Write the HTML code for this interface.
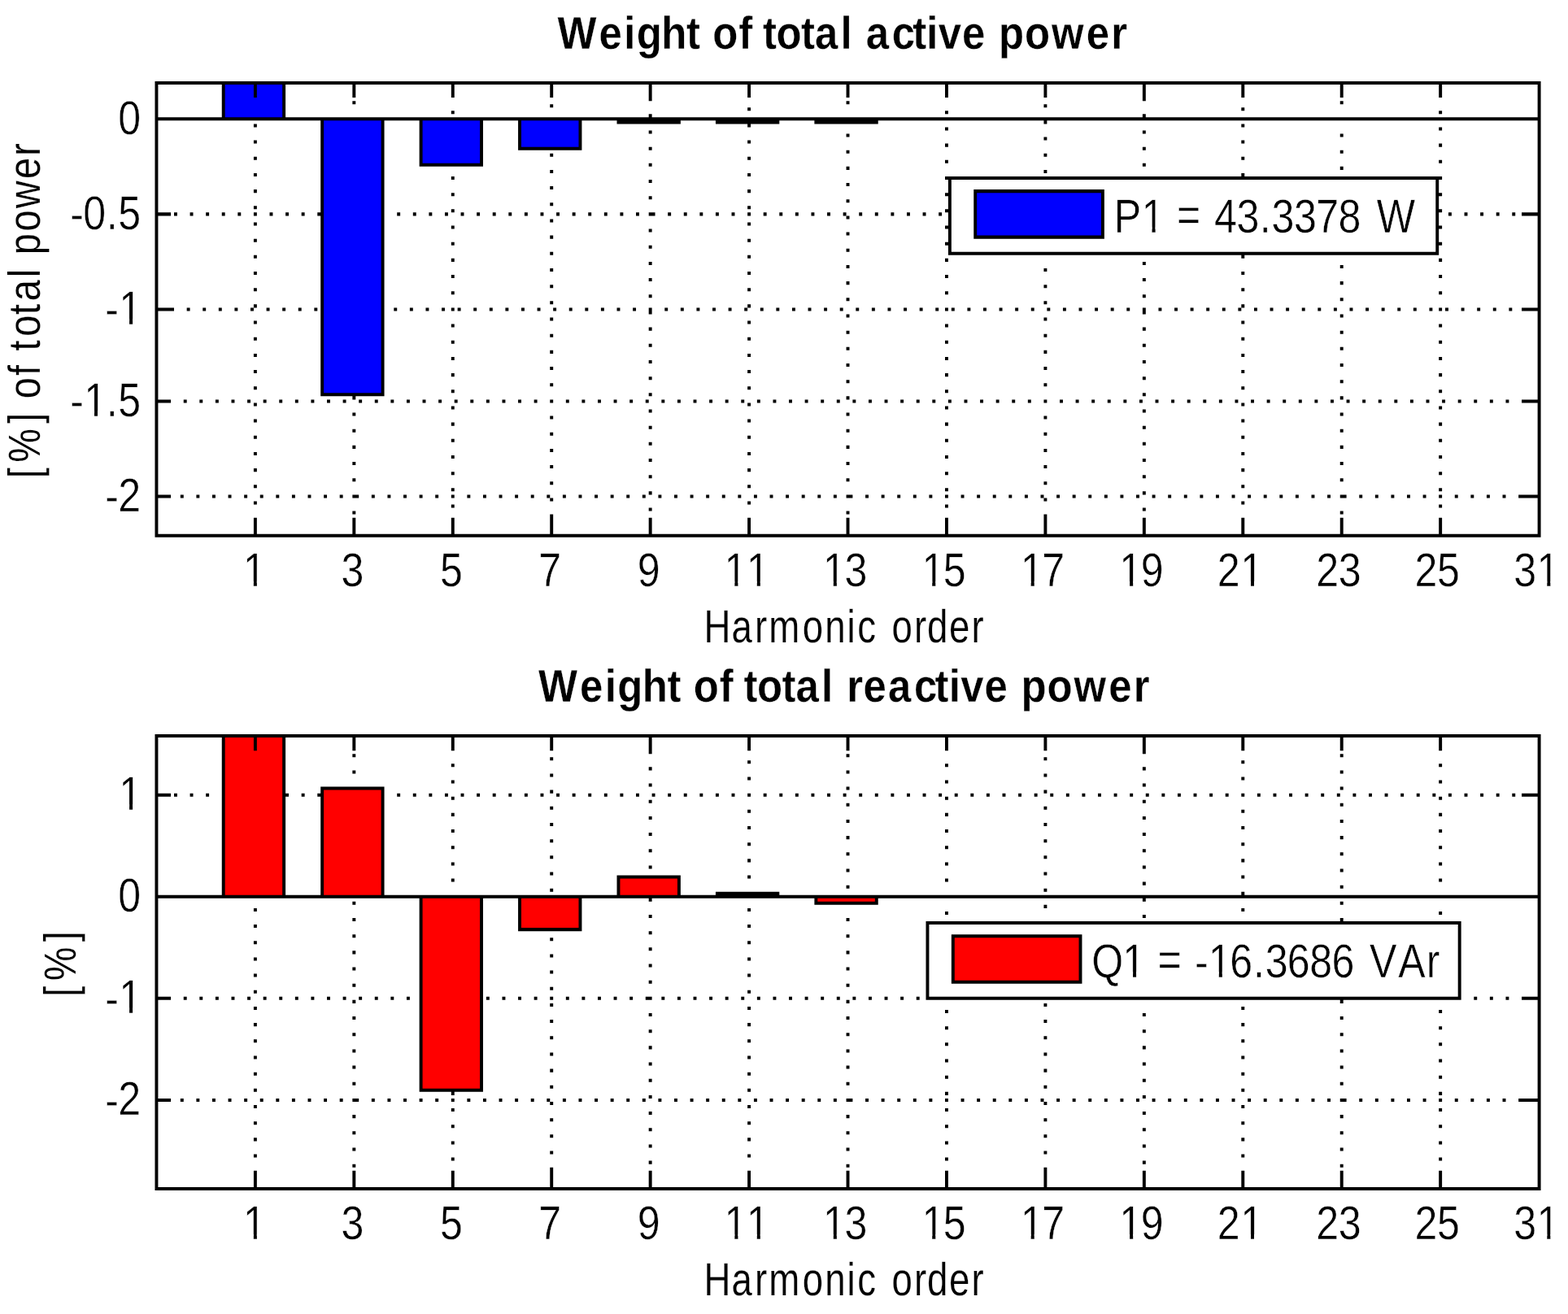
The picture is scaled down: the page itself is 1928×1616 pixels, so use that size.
<!DOCTYPE html>
<html lang="en"><head><meta charset="utf-8"><title>Weight of total active and reactive power</title>
<style>html,body{margin:0;padding:0;background:#fff}body{width:1928px;height:1616px;overflow:hidden}svg{display:block}text{font-family:"Liberation Sans",sans-serif;font-size:58.5px;font-kerning:none;font-variant-ligatures:none;fill:#000;stroke:#fff;stroke-width:0.5px;text-rendering:geometricPrecision;white-space:pre}text.b{font-weight:bold;font-size:56.5px;stroke-width:0.3px}text.l{font-size:57.0px;stroke-width:0.2px}</style></head><body>
<svg width="1928" height="1616" viewBox="0 0 1928 1616">
<rect width="1928" height="1616" fill="#fff"/>
<defs>
<clipPath id="k0"><path clip-rule="evenodd" d="M-17.32 -64.35H447.58V23.40H-17.32ZM43.17 -6.74H54.82V2.93H43.17ZM59.52 -6.74H70.74V2.93H59.52Z"/></clipPath>
<clipPath id="k1"><path clip-rule="evenodd" d="M-17.41 -64.35H550.97V23.40H-17.41ZM47.75 -6.74H59.40V2.93H47.75ZM64.10 -6.74H75.31V2.93H64.10ZM171.31 -6.74H182.96V2.93H171.31ZM187.66 -6.74H198.88V2.93H187.66Z"/></clipPath>
<clipPath id="k2"><path clip-rule="evenodd" d="M-18.85 -64.35H68.90V23.40H-18.85ZM1.99 -6.74H13.63V2.93H1.99ZM18.33 -6.74H29.55V2.93H18.33Z"/></clipPath>
<clipPath id="k3"><path clip-rule="evenodd" d="M-18.85 -64.35H100.94V23.40H-18.85ZM1.99 -6.74H13.63V2.93H1.99ZM18.33 -6.74H29.55V2.93H18.33ZM34.02 -6.74H45.67V2.93H34.02ZM50.37 -6.74H61.58V2.93H50.37Z"/></clipPath>
<clipPath id="k4"><path clip-rule="evenodd" d="M-18.85 -64.35H99.87V23.40H-18.85ZM1.99 -6.74H13.63V2.93H1.99ZM18.33 -6.74H29.55V2.93H18.33Z"/></clipPath>
<clipPath id="k5"><path clip-rule="evenodd" d="M-18.85 -64.35H99.75V23.40H-18.85ZM1.99 -6.74H13.63V2.93H1.99ZM18.33 -6.74H29.55V2.93H18.33Z"/></clipPath>
<clipPath id="k6"><path clip-rule="evenodd" d="M-18.85 -64.35H99.67V23.40H-18.85ZM1.99 -6.74H13.63V2.93H1.99ZM18.33 -6.74H29.55V2.93H18.33Z"/></clipPath>
<clipPath id="k7"><path clip-rule="evenodd" d="M-18.85 -64.35H99.71V23.40H-18.85ZM1.99 -6.74H13.63V2.93H1.99ZM18.33 -6.74H29.55V2.93H18.33Z"/></clipPath>
<clipPath id="k8"><path clip-rule="evenodd" d="M-20.09 -64.35H100.94V23.40H-20.09ZM34.02 -6.74H45.67V2.93H34.02ZM50.37 -6.74H61.58V2.93H50.37Z"/></clipPath>
<clipPath id="k9"><path clip-rule="evenodd" d="M-19.92 -64.35H100.94V23.40H-19.92ZM34.02 -6.74H45.67V2.93H34.02ZM50.37 -6.74H61.58V2.93H50.37Z"/></clipPath>
<clipPath id="k10"><path clip-rule="evenodd" d="M-18.85 -64.35H68.90V23.40H-18.85ZM1.99 -6.74H13.63V2.93H1.99ZM18.33 -6.74H29.55V2.93H18.33Z"/></clipPath>
<clipPath id="k11"><path clip-rule="evenodd" d="M-18.85 -64.35H100.94V23.40H-18.85ZM1.99 -6.74H13.63V2.93H1.99ZM18.33 -6.74H29.55V2.93H18.33ZM34.02 -6.74H45.67V2.93H34.02ZM50.37 -6.74H61.58V2.93H50.37Z"/></clipPath>
<clipPath id="k12"><path clip-rule="evenodd" d="M-18.85 -64.35H99.87V23.40H-18.85ZM1.99 -6.74H13.63V2.93H1.99ZM18.33 -6.74H29.55V2.93H18.33Z"/></clipPath>
<clipPath id="k13"><path clip-rule="evenodd" d="M-18.85 -64.35H99.75V23.40H-18.85ZM1.99 -6.74H13.63V2.93H1.99ZM18.33 -6.74H29.55V2.93H18.33Z"/></clipPath>
<clipPath id="k14"><path clip-rule="evenodd" d="M-18.85 -64.35H99.67V23.40H-18.85ZM1.99 -6.74H13.63V2.93H1.99ZM18.33 -6.74H29.55V2.93H18.33Z"/></clipPath>
<clipPath id="k15"><path clip-rule="evenodd" d="M-18.85 -64.35H99.71V23.40H-18.85ZM1.99 -6.74H13.63V2.93H1.99ZM18.33 -6.74H29.55V2.93H18.33Z"/></clipPath>
<clipPath id="k16"><path clip-rule="evenodd" d="M-20.09 -64.35H100.94V23.40H-20.09ZM34.02 -6.74H45.67V2.93H34.02ZM50.37 -6.74H61.58V2.93H50.37Z"/></clipPath>
<clipPath id="k17"><path clip-rule="evenodd" d="M-19.92 -64.35H100.94V23.40H-19.92ZM34.02 -6.74H45.67V2.93H34.02ZM50.37 -6.74H61.58V2.93H50.37Z"/></clipPath>
<clipPath id="k18"><path clip-rule="evenodd" d="M-20.43 -64.35H87.21V23.40H-20.43ZM20.29 -6.74H31.94V2.93H20.29ZM36.64 -6.74H47.86V2.93H36.64Z"/></clipPath>
<clipPath id="k19"><path clip-rule="evenodd" d="M-20.43 -64.35H136.36V23.40H-20.43ZM20.29 -6.74H31.94V2.93H20.29ZM36.64 -6.74H47.86V2.93H36.64Z"/></clipPath>
<clipPath id="k20"><path clip-rule="evenodd" d="M-18.85 -64.35H68.90V23.40H-18.85ZM1.99 -6.74H13.63V2.93H1.99ZM18.33 -6.74H29.55V2.93H18.33Z"/></clipPath>
<clipPath id="k21"><path clip-rule="evenodd" d="M-20.43 -64.35H87.21V23.40H-20.43ZM20.29 -6.74H31.94V2.93H20.29ZM36.64 -6.74H47.86V2.93H36.64Z"/></clipPath>
</defs>
<g id="active-power">
<rect x="274.72" y="101.95" width="74.43" height="44.39" fill="#0000ff"/>
<rect x="396.15" y="146.34" width="74.43" height="338.98" fill="#0000ff"/>
<rect x="517.59" y="146.34" width="74.43" height="56.50" fill="#0000ff"/>
<rect x="639.03" y="146.34" width="74.43" height="36.32" fill="#0000ff"/>
</g>
<g id="reactive-power">
<rect x="274.72" y="905.01" width="74.43" height="197.74" fill="#ff0000"/>
<rect x="396.15" y="969.58" width="74.43" height="133.17" fill="#ff0000"/>
<rect x="517.59" y="1102.75" width="74.43" height="238.09" fill="#ff0000"/>
<rect x="639.03" y="1102.75" width="74.43" height="40.36" fill="#ff0000"/>
<rect x="760.47" y="1078.54" width="74.43" height="24.21" fill="#ff0000"/>
<rect x="1003.35" y="1102.75" width="74.43" height="8.07" fill="#ff0000"/>
</g>
<g id="legends">
<rect x="1165.92" y="216.96" width="603.28" height="96.85" fill="#fff"/>
<rect x="1199.22" y="235.12" width="156.70" height="56.50" fill="#0000ff"/>
<rect x="1138.50" y="1133.02" width="658.12" height="96.85" fill="#fff"/>
<rect x="1171.80" y="1151.18" width="156.70" height="56.50" fill="#ff0000"/>
</g>
<path id="lines" fill="#000" d="M190.49 99.93H1894.56V103.97H190.49ZM190.49 656.83H1894.56V660.87H190.49ZM190.49 99.93H194.41V660.87H190.49ZM1890.64 99.93H1894.56V660.87H1890.64ZM190.49 144.32H1894.56V148.36H190.49ZM272.76 99.93H351.10V103.97H272.76ZM272.76 144.32H351.10V148.36H272.76ZM272.76 99.93H276.67V148.36H272.76ZM347.19 99.93H351.10V148.36H347.19ZM394.20 144.32H472.54V148.36H394.20ZM394.20 483.30H472.54V487.34H394.20ZM394.20 144.32H398.11V487.34H394.20ZM468.63 144.32H472.54V487.34H468.63ZM515.64 144.32H593.98V148.36H515.64ZM515.64 200.82H593.98V204.86H515.64ZM515.64 144.32H519.55V204.86H515.64ZM590.07 144.32H593.98V204.86H590.07ZM637.07 144.32H715.42V148.36H637.07ZM637.07 180.64H715.42V184.68H637.07ZM637.07 144.32H640.99V184.68H637.07ZM711.51 144.32H715.42V184.68H711.51ZM758.51 144.32H836.86V148.36H758.51ZM758.51 148.36H836.86V152.39H758.51ZM758.51 144.32H762.43V152.39H758.51ZM832.94 144.32H836.86V152.39H832.94ZM879.95 144.32H958.30V148.36H879.95ZM879.95 148.36H958.30V152.39H879.95ZM879.95 144.32H883.87V152.39H879.95ZM954.38 144.32H958.30V152.39H954.38ZM1001.39 144.32H1079.74V148.36H1001.39ZM1001.39 148.36H1079.74V152.39H1001.39ZM1001.39 144.32H1005.31V152.39H1001.39ZM1075.82 144.32H1079.74V152.39H1075.82ZM311.93 103.97H315.85V120.11H311.93ZM311.93 636.65H315.85V656.83H311.93ZM433.37 103.97H437.29V120.11H433.37ZM433.37 636.65H437.29V656.83H433.37ZM554.81 103.97H558.73V120.11H554.81ZM554.81 636.65H558.73V656.83H554.81ZM676.25 103.97H680.17V120.11H676.25ZM676.25 636.65H680.17V656.83H676.25ZM797.69 103.97H801.61V120.11H797.69ZM797.69 636.65H801.61V656.83H797.69ZM919.13 103.97H923.05V120.11H919.13ZM919.13 636.65H923.05V656.83H919.13ZM1040.57 103.97H1044.48V120.11H1040.57ZM1040.57 636.65H1044.48V656.83H1040.57ZM1162.01 103.97H1165.92V120.11H1162.01ZM1162.01 636.65H1165.92V656.83H1162.01ZM1283.45 103.97H1287.36V120.11H1283.45ZM1283.45 636.65H1287.36V656.83H1283.45ZM1404.89 103.97H1408.80V120.11H1404.89ZM1404.89 636.65H1408.80V656.83H1404.89ZM1526.32 103.97H1530.24V120.11H1526.32ZM1526.32 636.65H1530.24V656.83H1526.32ZM1647.76 103.97H1651.68V120.11H1647.76ZM1647.76 636.65H1651.68V656.83H1647.76ZM1769.20 103.97H1773.12V120.11H1769.20ZM1769.20 636.65H1773.12V656.83H1769.20ZM194.41 261.35H210.08V265.39H194.41ZM1871.06 261.35H1890.64V265.39H1871.06ZM194.41 378.38H210.08V382.42H194.41ZM1871.06 378.38H1890.64V382.42H1871.06ZM194.41 491.38H210.08V495.41H194.41ZM1871.06 491.38H1890.64V495.41H1871.06ZM194.41 608.41H210.08V612.44H194.41ZM1871.06 608.41H1890.64V612.44H1871.06ZM194.41 144.32H210.08V148.36H194.41ZM1871.06 144.32H1890.64V148.36H1871.06ZM210.08 378.38H214.00V382.42H210.08ZM214.00 261.35H217.91V265.39H214.00ZM221.83 608.41H225.75V612.44H221.83ZM225.75 491.38H229.67V495.41H225.75ZM229.67 378.38H233.58V382.42H229.67ZM233.58 261.35H237.50V265.39H233.58ZM241.42 608.41H245.33V612.44H241.42ZM245.33 491.38H249.25V495.41H245.33ZM249.25 378.38H253.17V382.42H249.25ZM253.17 261.35H257.09V265.39H253.17ZM261.00 608.41H264.92V612.44H261.00ZM264.92 491.38H268.84V495.41H264.92ZM268.84 378.38H272.76V382.42H268.84ZM272.76 261.35H276.67V265.39H272.76ZM280.59 608.41H284.51V612.44H280.59ZM284.51 491.38H288.43V495.41H284.51ZM288.43 378.38H292.34V382.42H288.43ZM292.34 261.35H296.26V265.39H292.34ZM300.18 608.41H304.10V612.44H300.18ZM304.10 491.38H308.01V495.41H304.10ZM308.01 378.38H311.93V382.42H308.01ZM311.93 152.39H315.85V156.43H311.93ZM311.93 172.57H315.85V176.61H311.93ZM311.93 192.75H315.85V196.78H311.93ZM311.93 212.93H315.85V216.96H311.93ZM311.93 233.10H315.85V237.14H311.93ZM311.93 253.28H315.85V257.32H311.93ZM311.93 261.35H315.85V265.39H311.93ZM311.93 273.46H315.85V277.49H311.93ZM311.93 293.64H315.85V297.67H311.93ZM311.93 313.81H315.85V317.85H311.93ZM311.93 333.99H315.85V338.03H311.93ZM311.93 354.17H315.85V358.20H311.93ZM311.93 374.35H315.85V378.38H311.93ZM311.93 394.52H315.85V398.56H311.93ZM311.93 414.70H315.85V418.74H311.93ZM311.93 434.88H315.85V438.91H311.93ZM311.93 455.06H315.85V459.09H311.93ZM311.93 475.23H315.85V479.27H311.93ZM311.93 495.41H315.85V499.45H311.93ZM311.93 515.59H315.85V519.62H311.93ZM311.93 535.77H315.85V539.80H311.93ZM311.93 555.94H315.85V559.98H311.93ZM311.93 576.12H315.85V580.16H311.93ZM311.93 596.30H315.85V600.33H311.93ZM311.93 616.48H315.85V620.51H311.93ZM319.77 608.41H323.68V612.44H319.77ZM323.68 491.38H327.60V495.41H323.68ZM327.60 378.38H331.52V382.42H327.60ZM331.52 261.35H335.44V265.39H331.52ZM339.35 608.41H343.27V612.44H339.35ZM343.27 491.38H347.19V495.41H343.27ZM347.19 378.38H351.10V382.42H347.19ZM351.10 261.35H355.02V265.39H351.10ZM358.94 608.41H362.86V612.44H358.94ZM362.86 491.38H366.77V495.41H362.86ZM366.77 378.38H370.69V382.42H366.77ZM370.69 261.35H374.61V265.39H370.69ZM378.53 608.41H382.44V612.44H378.53ZM382.44 491.38H386.36V495.41H382.44ZM386.36 378.38H390.28V382.42H386.36ZM390.28 261.35H394.20V265.39H390.28ZM398.11 608.41H402.03V612.44H398.11ZM402.03 491.38H405.95V495.41H402.03ZM417.70 608.41H421.62V612.44H417.70ZM421.62 491.38H425.54V495.41H421.62ZM433.37 124.15H437.29V128.18H433.37ZM433.37 487.34H437.29V491.38H433.37ZM433.37 507.52H437.29V511.55H433.37ZM433.37 527.70H437.29V531.73H433.37ZM433.37 547.87H437.29V551.91H433.37ZM433.37 568.05H437.29V572.09H433.37ZM433.37 588.23H437.29V592.26H433.37ZM433.37 608.41H437.29V612.44H433.37ZM433.37 628.58H437.29V632.62H433.37ZM437.29 608.41H441.20V612.44H437.29ZM441.20 491.38H445.12V495.41H441.20ZM456.87 608.41H460.79V612.44H456.87ZM460.79 491.38H464.71V495.41H460.79ZM476.46 608.41H480.38V612.44H476.46ZM480.38 491.38H484.30V495.41H480.38ZM484.30 378.38H488.21V382.42H484.30ZM488.21 261.35H492.13V265.39H488.21ZM496.05 608.41H499.97V612.44H496.05ZM499.97 491.38H503.88V495.41H499.97ZM503.88 378.38H507.80V382.42H503.88ZM507.80 261.35H511.72V265.39H507.80ZM515.64 608.41H519.55V612.44H515.64ZM519.55 491.38H523.47V495.41H519.55ZM523.47 378.38H527.39V382.42H523.47ZM527.39 261.35H531.31V265.39H527.39ZM535.22 608.41H539.14V612.44H535.22ZM539.14 491.38H543.06V495.41H539.14ZM543.06 378.38H546.97V382.42H543.06ZM546.97 261.35H550.89V265.39H546.97ZM554.81 136.25H558.73V140.29H554.81ZM554.81 216.96H558.73V221.00H554.81ZM554.81 237.14H558.73V241.17H554.81ZM554.81 257.32H558.73V261.35H554.81ZM554.81 277.49H558.73V281.53H554.81ZM554.81 297.67H558.73V301.71H554.81ZM554.81 317.85H558.73V321.88H554.81ZM554.81 338.03H558.73V342.06H554.81ZM554.81 358.20H558.73V362.24H554.81ZM554.81 378.38H558.73V382.42H554.81ZM554.81 398.56H558.73V402.59H554.81ZM554.81 418.74H558.73V422.77H554.81ZM554.81 438.91H558.73V442.95H554.81ZM554.81 459.09H558.73V463.13H554.81ZM554.81 479.27H558.73V483.30H554.81ZM554.81 499.45H558.73V503.48H554.81ZM554.81 519.62H558.73V523.66H554.81ZM554.81 539.80H558.73V543.84H554.81ZM554.81 559.98H558.73V564.01H554.81ZM554.81 580.16H558.73V584.19H554.81ZM554.81 600.33H558.73V604.37H554.81ZM554.81 608.41H558.73V612.44H554.81ZM554.81 620.51H558.73V624.55H554.81ZM558.73 491.38H562.64V495.41H558.73ZM562.64 378.38H566.56V382.42H562.64ZM566.56 261.35H570.48V265.39H566.56ZM574.40 608.41H578.31V612.44H574.40ZM578.31 491.38H582.23V495.41H578.31ZM582.23 378.38H586.15V382.42H582.23ZM586.15 261.35H590.07V265.39H586.15ZM593.98 608.41H597.90V612.44H593.98ZM597.90 491.38H601.82V495.41H597.90ZM601.82 378.38H605.74V382.42H601.82ZM605.74 261.35H609.65V265.39H605.74ZM613.57 608.41H617.49V612.44H613.57ZM617.49 491.38H621.41V495.41H617.49ZM621.41 378.38H625.32V382.42H621.41ZM625.32 261.35H629.24V265.39H625.32ZM633.16 608.41H637.07V612.44H633.16ZM637.07 491.38H640.99V495.41H637.07ZM640.99 378.38H644.91V382.42H640.99ZM644.91 261.35H648.83V265.39H644.91ZM652.74 608.41H656.66V612.44H652.74ZM656.66 491.38H660.58V495.41H656.66ZM660.58 378.38H664.50V382.42H660.58ZM664.50 261.35H668.41V265.39H664.50ZM672.33 608.41H676.25V612.44H672.33ZM676.25 128.18H680.17V132.22H676.25ZM676.25 188.71H680.17V192.75H676.25ZM676.25 208.89H680.17V212.93H676.25ZM676.25 229.07H680.17V233.10H676.25ZM676.25 249.25H680.17V253.28H676.25ZM676.25 269.42H680.17V273.46H676.25ZM676.25 289.60H680.17V293.64H676.25ZM676.25 309.78H680.17V313.81H676.25ZM676.25 329.96H680.17V333.99H676.25ZM676.25 350.13H680.17V354.17H676.25ZM676.25 370.31H680.17V374.35H676.25ZM676.25 390.49H680.17V394.52H676.25ZM676.25 410.67H680.17V414.70H676.25ZM676.25 430.84H680.17V434.88H676.25ZM676.25 451.02H680.17V455.06H676.25ZM676.25 471.20H680.17V475.23H676.25ZM676.25 491.38H680.17V495.41H676.25ZM676.25 511.55H680.17V515.59H676.25ZM676.25 531.73H680.17V535.77H676.25ZM676.25 551.91H680.17V555.94H676.25ZM676.25 572.09H680.17V576.12H676.25ZM676.25 592.26H680.17V596.30H676.25ZM676.25 612.44H680.17V616.48H676.25ZM676.25 632.62H680.17V636.65H676.25ZM680.17 378.38H684.08V382.42H680.17ZM684.08 261.35H688.00V265.39H684.08ZM691.92 608.41H695.84V612.44H691.92ZM695.84 491.38H699.75V495.41H695.84ZM699.75 378.38H703.67V382.42H699.75ZM703.67 261.35H707.59V265.39H703.67ZM711.51 608.41H715.42V612.44H711.51ZM715.42 491.38H719.34V495.41H715.42ZM719.34 378.38H723.26V382.42H719.34ZM723.26 261.35H727.18V265.39H723.26ZM731.09 608.41H735.01V612.44H731.09ZM735.01 491.38H738.93V495.41H735.01ZM738.93 378.38H742.84V382.42H738.93ZM742.84 261.35H746.76V265.39H742.84ZM750.68 608.41H754.60V612.44H750.68ZM754.60 491.38H758.51V495.41H754.60ZM758.51 378.38H762.43V382.42H758.51ZM762.43 261.35H766.35V265.39H762.43ZM770.27 608.41H774.18V612.44H770.27ZM774.18 491.38H778.10V495.41H774.18ZM778.10 378.38H782.02V382.42H778.10ZM782.02 261.35H785.94V265.39H782.02ZM789.85 608.41H793.77V612.44H789.85ZM793.77 491.38H797.69V495.41H793.77ZM797.69 120.11H801.61V124.15H797.69ZM797.69 140.29H801.61V144.32H797.69ZM797.69 160.46H801.61V164.50H797.69ZM797.69 180.64H801.61V184.68H797.69ZM797.69 200.82H801.61V204.86H797.69ZM797.69 221.00H801.61V225.03H797.69ZM797.69 241.17H801.61V245.21H797.69ZM797.69 261.35H801.61V265.39H797.69ZM797.69 281.53H801.61V285.57H797.69ZM797.69 301.71H801.61V305.74H797.69ZM797.69 321.88H801.61V325.92H797.69ZM797.69 342.06H801.61V346.10H797.69ZM797.69 362.24H801.61V366.28H797.69ZM797.69 378.38H801.61V382.42H797.69ZM797.69 382.42H801.61V386.45H797.69ZM797.69 402.59H801.61V406.63H797.69ZM797.69 422.77H801.61V426.81H797.69ZM797.69 442.95H801.61V446.99H797.69ZM797.69 463.13H801.61V467.16H797.69ZM797.69 483.30H801.61V487.34H797.69ZM797.69 503.48H801.61V507.52H797.69ZM797.69 523.66H801.61V527.70H797.69ZM797.69 543.84H801.61V547.87H797.69ZM797.69 564.01H801.61V568.05H797.69ZM797.69 584.19H801.61V588.23H797.69ZM797.69 604.37H801.61V608.41H797.69ZM797.69 624.55H801.61V628.58H797.69ZM801.61 261.35H805.52V265.39H801.61ZM809.44 608.41H813.36V612.44H809.44ZM813.36 491.38H817.28V495.41H813.36ZM817.28 378.38H821.19V382.42H817.28ZM821.19 261.35H825.11V265.39H821.19ZM829.03 608.41H832.94V612.44H829.03ZM832.94 491.38H836.86V495.41H832.94ZM836.86 378.38H840.78V382.42H836.86ZM840.78 261.35H844.70V265.39H840.78ZM848.61 608.41H852.53V612.44H848.61ZM852.53 491.38H856.45V495.41H852.53ZM856.45 378.38H860.37V382.42H856.45ZM860.37 261.35H864.28V265.39H860.37ZM868.20 608.41H872.12V612.44H868.20ZM872.12 491.38H876.04V495.41H872.12ZM876.04 378.38H879.95V382.42H876.04ZM879.95 261.35H883.87V265.39H879.95ZM887.79 608.41H891.71V612.44H887.79ZM891.71 491.38H895.62V495.41H891.71ZM895.62 378.38H899.54V382.42H895.62ZM899.54 261.35H903.46V265.39H899.54ZM907.38 608.41H911.29V612.44H907.38ZM911.29 491.38H915.21V495.41H911.29ZM915.21 378.38H919.13V382.42H915.21ZM919.13 132.22H923.05V136.25H919.13ZM919.13 152.39H923.05V156.43H919.13ZM919.13 172.57H923.05V176.61H919.13ZM919.13 192.75H923.05V196.78H919.13ZM919.13 212.93H923.05V216.96H919.13ZM919.13 233.10H923.05V237.14H919.13ZM919.13 253.28H923.05V257.32H919.13ZM919.13 261.35H923.05V265.39H919.13ZM919.13 273.46H923.05V277.49H919.13ZM919.13 293.64H923.05V297.67H919.13ZM919.13 313.81H923.05V317.85H919.13ZM919.13 333.99H923.05V338.03H919.13ZM919.13 354.17H923.05V358.20H919.13ZM919.13 374.35H923.05V378.38H919.13ZM919.13 394.52H923.05V398.56H919.13ZM919.13 414.70H923.05V418.74H919.13ZM919.13 434.88H923.05V438.91H919.13ZM919.13 455.06H923.05V459.09H919.13ZM919.13 475.23H923.05V479.27H919.13ZM919.13 495.41H923.05V499.45H919.13ZM919.13 515.59H923.05V519.62H919.13ZM919.13 535.77H923.05V539.80H919.13ZM919.13 555.94H923.05V559.98H919.13ZM919.13 576.12H923.05V580.16H919.13ZM919.13 596.30H923.05V600.33H919.13ZM919.13 616.48H923.05V620.51H919.13ZM926.96 608.41H930.88V612.44H926.96ZM930.88 491.38H934.80V495.41H930.88ZM934.80 378.38H938.71V382.42H934.80ZM938.71 261.35H942.63V265.39H938.71ZM946.55 608.41H950.47V612.44H946.55ZM950.47 491.38H954.38V495.41H950.47ZM954.38 378.38H958.30V382.42H954.38ZM958.30 261.35H962.22V265.39H958.30ZM966.14 608.41H970.05V612.44H966.14ZM970.05 491.38H973.97V495.41H970.05ZM973.97 378.38H977.89V382.42H973.97ZM977.89 261.35H981.81V265.39H977.89ZM985.72 608.41H989.64V612.44H985.72ZM989.64 491.38H993.56V495.41H989.64ZM993.56 378.38H997.48V382.42H993.56ZM997.48 261.35H1001.39V265.39H997.48ZM1005.31 608.41H1009.23V612.44H1005.31ZM1009.23 491.38H1013.15V495.41H1009.23ZM1013.15 378.38H1017.06V382.42H1013.15ZM1017.06 261.35H1020.98V265.39H1017.06ZM1024.90 608.41H1028.81V612.44H1024.90ZM1028.81 491.38H1032.73V495.41H1028.81ZM1032.73 378.38H1036.65V382.42H1032.73ZM1036.65 261.35H1040.57V265.39H1036.65ZM1040.57 124.15H1044.48V128.18H1040.57ZM1040.57 164.50H1044.48V168.54H1040.57ZM1040.57 184.68H1044.48V188.71H1040.57ZM1040.57 204.86H1044.48V208.89H1040.57ZM1040.57 225.03H1044.48V229.07H1040.57ZM1040.57 245.21H1044.48V249.25H1040.57ZM1040.57 265.39H1044.48V269.42H1040.57ZM1040.57 285.57H1044.48V289.60H1040.57ZM1040.57 305.74H1044.48V309.78H1040.57ZM1040.57 325.92H1044.48V329.96H1040.57ZM1040.57 346.10H1044.48V350.13H1040.57ZM1040.57 366.28H1044.48V370.31H1040.57ZM1040.57 386.45H1044.48V390.49H1040.57ZM1040.57 406.63H1044.48V410.67H1040.57ZM1040.57 426.81H1044.48V430.84H1040.57ZM1040.57 446.99H1044.48V451.02H1040.57ZM1040.57 467.16H1044.48V471.20H1040.57ZM1040.57 487.34H1044.48V491.38H1040.57ZM1040.57 507.52H1044.48V511.55H1040.57ZM1040.57 527.70H1044.48V531.73H1040.57ZM1040.57 547.87H1044.48V551.91H1040.57ZM1040.57 568.05H1044.48V572.09H1040.57ZM1040.57 588.23H1044.48V592.26H1040.57ZM1040.57 608.41H1044.48V612.44H1040.57ZM1040.57 628.58H1044.48V632.62H1040.57ZM1044.48 608.41H1048.40V612.44H1044.48ZM1048.40 491.38H1052.32V495.41H1048.40ZM1052.32 378.38H1056.24V382.42H1052.32ZM1056.24 261.35H1060.15V265.39H1056.24ZM1064.07 608.41H1067.99V612.44H1064.07ZM1067.99 491.38H1071.91V495.41H1067.99ZM1071.91 378.38H1075.82V382.42H1071.91ZM1075.82 261.35H1079.74V265.39H1075.82ZM1083.66 608.41H1087.58V612.44H1083.66ZM1087.58 491.38H1091.49V495.41H1087.58ZM1091.49 378.38H1095.41V382.42H1091.49ZM1095.41 261.35H1099.33V265.39H1095.41ZM1103.25 608.41H1107.16V612.44H1103.25ZM1107.16 491.38H1111.08V495.41H1107.16ZM1111.08 378.38H1115.00V382.42H1111.08ZM1115.00 261.35H1118.92V265.39H1115.00ZM1122.83 608.41H1126.75V612.44H1122.83ZM1126.75 491.38H1130.67V495.41H1126.75ZM1130.67 378.38H1134.58V382.42H1130.67ZM1134.58 261.35H1138.50V265.39H1134.58ZM1142.42 608.41H1146.34V612.44H1142.42ZM1146.34 491.38H1150.25V495.41H1146.34ZM1150.25 378.38H1154.17V382.42H1150.25ZM1154.17 261.35H1158.09V265.39H1154.17ZM1162.01 136.25H1165.92V140.29H1162.01ZM1162.01 156.43H1165.92V160.46H1162.01ZM1162.01 176.61H1165.92V180.64H1162.01ZM1162.01 196.78H1165.92V200.82H1162.01ZM1162.01 216.96H1165.92V221.00H1162.01ZM1162.01 237.14H1165.92V241.17H1162.01ZM1162.01 257.32H1165.92V261.35H1162.01ZM1162.01 277.49H1165.92V281.53H1162.01ZM1162.01 297.67H1165.92V301.71H1162.01ZM1162.01 317.85H1165.92V321.88H1162.01ZM1162.01 338.03H1165.92V342.06H1162.01ZM1162.01 358.20H1165.92V362.24H1162.01ZM1162.01 378.38H1165.92V382.42H1162.01ZM1162.01 398.56H1165.92V402.59H1162.01ZM1162.01 418.74H1165.92V422.77H1162.01ZM1162.01 438.91H1165.92V442.95H1162.01ZM1162.01 459.09H1165.92V463.13H1162.01ZM1162.01 479.27H1165.92V483.30H1162.01ZM1162.01 499.45H1165.92V503.48H1162.01ZM1162.01 519.62H1165.92V523.66H1162.01ZM1162.01 539.80H1165.92V543.84H1162.01ZM1162.01 559.98H1165.92V564.01H1162.01ZM1162.01 580.16H1165.92V584.19H1162.01ZM1162.01 600.33H1165.92V604.37H1162.01ZM1162.01 608.41H1165.92V612.44H1162.01ZM1162.01 620.51H1165.92V624.55H1162.01ZM1165.92 491.38H1169.84V495.41H1165.92ZM1169.84 378.38H1173.76V382.42H1169.84ZM1181.59 608.41H1185.51V612.44H1181.59ZM1185.51 491.38H1189.43V495.41H1185.51ZM1189.43 378.38H1193.35V382.42H1189.43ZM1201.18 608.41H1205.10V612.44H1201.18ZM1205.10 491.38H1209.02V495.41H1205.10ZM1209.02 378.38H1212.93V382.42H1209.02ZM1220.77 608.41H1224.68V612.44H1220.77ZM1224.68 491.38H1228.60V495.41H1224.68ZM1228.60 378.38H1232.52V382.42H1228.60ZM1240.35 608.41H1244.27V612.44H1240.35ZM1244.27 491.38H1248.19V495.41H1244.27ZM1248.19 378.38H1252.11V382.42H1248.19ZM1259.94 608.41H1263.86V612.44H1259.94ZM1263.86 491.38H1267.78V495.41H1263.86ZM1267.78 378.38H1271.69V382.42H1267.78ZM1279.53 608.41H1283.45V612.44H1279.53ZM1283.45 128.18H1287.36V132.22H1283.45ZM1283.45 148.36H1287.36V152.39H1283.45ZM1283.45 168.54H1287.36V172.57H1283.45ZM1283.45 188.71H1287.36V192.75H1283.45ZM1283.45 208.89H1287.36V212.93H1283.45ZM1283.45 329.96H1287.36V333.99H1283.45ZM1283.45 350.13H1287.36V354.17H1283.45ZM1283.45 370.31H1287.36V374.35H1283.45ZM1283.45 390.49H1287.36V394.52H1283.45ZM1283.45 410.67H1287.36V414.70H1283.45ZM1283.45 430.84H1287.36V434.88H1283.45ZM1283.45 451.02H1287.36V455.06H1283.45ZM1283.45 471.20H1287.36V475.23H1283.45ZM1283.45 491.38H1287.36V495.41H1283.45ZM1283.45 511.55H1287.36V515.59H1283.45ZM1283.45 531.73H1287.36V535.77H1283.45ZM1283.45 551.91H1287.36V555.94H1283.45ZM1283.45 572.09H1287.36V576.12H1283.45ZM1283.45 592.26H1287.36V596.30H1283.45ZM1283.45 612.44H1287.36V616.48H1283.45ZM1283.45 632.62H1287.36V636.65H1283.45ZM1287.36 378.38H1291.28V382.42H1287.36ZM1299.12 608.41H1303.03V612.44H1299.12ZM1303.03 491.38H1306.95V495.41H1303.03ZM1306.95 378.38H1310.87V382.42H1306.95ZM1318.70 608.41H1322.62V612.44H1318.70ZM1322.62 491.38H1326.54V495.41H1322.62ZM1326.54 378.38H1330.45V382.42H1326.54ZM1338.29 608.41H1342.21V612.44H1338.29ZM1342.21 491.38H1346.12V495.41H1342.21ZM1346.12 378.38H1350.04V382.42H1346.12ZM1357.88 608.41H1361.79V612.44H1357.88ZM1361.79 491.38H1365.71V495.41H1361.79ZM1365.71 378.38H1369.63V382.42H1365.71ZM1377.46 608.41H1381.38V612.44H1377.46ZM1381.38 491.38H1385.30V495.41H1381.38ZM1385.30 378.38H1389.22V382.42H1385.30ZM1397.05 608.41H1400.97V612.44H1397.05ZM1400.97 491.38H1404.89V495.41H1400.97ZM1404.89 120.11H1408.80V124.15H1404.89ZM1404.89 140.29H1408.80V144.32H1404.89ZM1404.89 160.46H1408.80V164.50H1404.89ZM1404.89 180.64H1408.80V184.68H1404.89ZM1404.89 200.82H1408.80V204.86H1404.89ZM1404.89 321.88H1408.80V325.92H1404.89ZM1404.89 342.06H1408.80V346.10H1404.89ZM1404.89 362.24H1408.80V366.28H1404.89ZM1404.89 378.38H1408.80V382.42H1404.89ZM1404.89 382.42H1408.80V386.45H1404.89ZM1404.89 402.59H1408.80V406.63H1404.89ZM1404.89 422.77H1408.80V426.81H1404.89ZM1404.89 442.95H1408.80V446.99H1404.89ZM1404.89 463.13H1408.80V467.16H1404.89ZM1404.89 483.30H1408.80V487.34H1404.89ZM1404.89 503.48H1408.80V507.52H1404.89ZM1404.89 523.66H1408.80V527.70H1404.89ZM1404.89 543.84H1408.80V547.87H1404.89ZM1404.89 564.01H1408.80V568.05H1404.89ZM1404.89 584.19H1408.80V588.23H1404.89ZM1404.89 604.37H1408.80V608.41H1404.89ZM1404.89 624.55H1408.80V628.58H1404.89ZM1416.64 608.41H1420.55V612.44H1416.64ZM1420.55 491.38H1424.47V495.41H1420.55ZM1424.47 378.38H1428.39V382.42H1424.47ZM1436.22 608.41H1440.14V612.44H1436.22ZM1440.14 491.38H1444.06V495.41H1440.14ZM1444.06 378.38H1447.98V382.42H1444.06ZM1455.81 608.41H1459.73V612.44H1455.81ZM1459.73 491.38H1463.65V495.41H1459.73ZM1463.65 378.38H1467.56V382.42H1463.65ZM1475.40 608.41H1479.32V612.44H1475.40ZM1479.32 491.38H1483.23V495.41H1479.32ZM1483.23 378.38H1487.15V382.42H1483.23ZM1494.99 608.41H1498.90V612.44H1494.99ZM1498.90 491.38H1502.82V495.41H1498.90ZM1502.82 378.38H1506.74V382.42H1502.82ZM1514.57 608.41H1518.49V612.44H1514.57ZM1518.49 491.38H1522.41V495.41H1518.49ZM1522.41 378.38H1526.32V382.42H1522.41ZM1526.32 132.22H1530.24V136.25H1526.32ZM1526.32 152.39H1530.24V156.43H1526.32ZM1526.32 172.57H1530.24V176.61H1526.32ZM1526.32 192.75H1530.24V196.78H1526.32ZM1526.32 212.93H1530.24V216.96H1526.32ZM1526.32 313.81H1530.24V317.85H1526.32ZM1526.32 333.99H1530.24V338.03H1526.32ZM1526.32 354.17H1530.24V358.20H1526.32ZM1526.32 374.35H1530.24V378.38H1526.32ZM1526.32 394.52H1530.24V398.56H1526.32ZM1526.32 414.70H1530.24V418.74H1526.32ZM1526.32 434.88H1530.24V438.91H1526.32ZM1526.32 455.06H1530.24V459.09H1526.32ZM1526.32 475.23H1530.24V479.27H1526.32ZM1526.32 495.41H1530.24V499.45H1526.32ZM1526.32 515.59H1530.24V519.62H1526.32ZM1526.32 535.77H1530.24V539.80H1526.32ZM1526.32 555.94H1530.24V559.98H1526.32ZM1526.32 576.12H1530.24V580.16H1526.32ZM1526.32 596.30H1530.24V600.33H1526.32ZM1526.32 616.48H1530.24V620.51H1526.32ZM1534.16 608.41H1538.08V612.44H1534.16ZM1538.08 491.38H1541.99V495.41H1538.08ZM1541.99 378.38H1545.91V382.42H1541.99ZM1553.75 608.41H1557.66V612.44H1553.75ZM1557.66 491.38H1561.58V495.41H1557.66ZM1561.58 378.38H1565.50V382.42H1561.58ZM1573.33 608.41H1577.25V612.44H1573.33ZM1577.25 491.38H1581.17V495.41H1577.25ZM1581.17 378.38H1585.09V382.42H1581.17ZM1592.92 608.41H1596.84V612.44H1592.92ZM1596.84 491.38H1600.76V495.41H1596.84ZM1600.76 378.38H1604.67V382.42H1600.76ZM1612.51 608.41H1616.42V612.44H1612.51ZM1616.42 491.38H1620.34V495.41H1616.42ZM1620.34 378.38H1624.26V382.42H1620.34ZM1632.09 608.41H1636.01V612.44H1632.09ZM1636.01 491.38H1639.93V495.41H1636.01ZM1639.93 378.38H1643.85V382.42H1639.93ZM1647.76 124.15H1651.68V128.18H1647.76ZM1647.76 164.50H1651.68V168.54H1647.76ZM1647.76 184.68H1651.68V188.71H1647.76ZM1647.76 204.86H1651.68V208.89H1647.76ZM1647.76 325.92H1651.68V329.96H1647.76ZM1647.76 346.10H1651.68V350.13H1647.76ZM1647.76 366.28H1651.68V370.31H1647.76ZM1647.76 386.45H1651.68V390.49H1647.76ZM1647.76 406.63H1651.68V410.67H1647.76ZM1647.76 426.81H1651.68V430.84H1647.76ZM1647.76 446.99H1651.68V451.02H1647.76ZM1647.76 467.16H1651.68V471.20H1647.76ZM1647.76 487.34H1651.68V491.38H1647.76ZM1647.76 507.52H1651.68V511.55H1647.76ZM1647.76 527.70H1651.68V531.73H1647.76ZM1647.76 547.87H1651.68V551.91H1647.76ZM1647.76 568.05H1651.68V572.09H1647.76ZM1647.76 588.23H1651.68V592.26H1647.76ZM1647.76 608.41H1651.68V612.44H1647.76ZM1647.76 628.58H1651.68V632.62H1647.76ZM1651.68 608.41H1655.60V612.44H1651.68ZM1655.60 491.38H1659.52V495.41H1655.60ZM1659.52 378.38H1663.43V382.42H1659.52ZM1671.27 608.41H1675.19V612.44H1671.27ZM1675.19 491.38H1679.10V495.41H1675.19ZM1679.10 378.38H1683.02V382.42H1679.10ZM1690.86 608.41H1694.77V612.44H1690.86ZM1694.77 491.38H1698.69V495.41H1694.77ZM1698.69 378.38H1702.61V382.42H1698.69ZM1710.44 608.41H1714.36V612.44H1710.44ZM1714.36 491.38H1718.28V495.41H1714.36ZM1718.28 378.38H1722.19V382.42H1718.28ZM1730.03 608.41H1733.95V612.44H1730.03ZM1733.95 491.38H1737.86V495.41H1733.95ZM1737.86 378.38H1741.78V382.42H1737.86ZM1749.62 608.41H1753.53V612.44H1749.62ZM1753.53 491.38H1757.45V495.41H1753.53ZM1757.45 378.38H1761.37V382.42H1757.45ZM1769.20 136.25H1773.12V140.29H1769.20ZM1769.20 156.43H1773.12V160.46H1769.20ZM1769.20 176.61H1773.12V180.64H1769.20ZM1769.20 196.78H1773.12V200.82H1769.20ZM1769.20 216.96H1773.12V221.00H1769.20ZM1769.20 237.14H1773.12V241.17H1769.20ZM1769.20 257.32H1773.12V261.35H1769.20ZM1769.20 277.49H1773.12V281.53H1769.20ZM1769.20 297.67H1773.12V301.71H1769.20ZM1769.20 317.85H1773.12V321.88H1769.20ZM1769.20 338.03H1773.12V342.06H1769.20ZM1769.20 358.20H1773.12V362.24H1769.20ZM1769.20 378.38H1773.12V382.42H1769.20ZM1769.20 398.56H1773.12V402.59H1769.20ZM1769.20 418.74H1773.12V422.77H1769.20ZM1769.20 438.91H1773.12V442.95H1769.20ZM1769.20 459.09H1773.12V463.13H1769.20ZM1769.20 479.27H1773.12V483.30H1769.20ZM1769.20 499.45H1773.12V503.48H1769.20ZM1769.20 519.62H1773.12V523.66H1769.20ZM1769.20 539.80H1773.12V543.84H1769.20ZM1769.20 559.98H1773.12V564.01H1769.20ZM1769.20 580.16H1773.12V584.19H1769.20ZM1769.20 600.33H1773.12V604.37H1769.20ZM1769.20 608.41H1773.12V612.44H1769.20ZM1769.20 620.51H1773.12V624.55H1769.20ZM1773.12 491.38H1777.04V495.41H1773.12ZM1777.04 378.38H1780.96V382.42H1777.04ZM1780.96 261.35H1784.87V265.39H1780.96ZM1788.79 608.41H1792.71V612.44H1788.79ZM1792.71 491.38H1796.63V495.41H1792.71ZM1796.63 378.38H1800.54V382.42H1796.63ZM1800.54 261.35H1804.46V265.39H1800.54ZM1808.38 608.41H1812.29V612.44H1808.38ZM1812.29 491.38H1816.21V495.41H1812.29ZM1816.21 378.38H1820.13V382.42H1816.21ZM1820.13 261.35H1824.05V265.39H1820.13ZM1827.96 608.41H1831.88V612.44H1827.96ZM1831.88 491.38H1835.80V495.41H1831.88ZM1835.80 378.38H1839.72V382.42H1835.80ZM1839.72 261.35H1843.63V265.39H1839.72ZM1847.55 608.41H1851.47V612.44H1847.55ZM1851.47 491.38H1855.39V495.41H1851.47ZM1855.39 378.38H1859.30V382.42H1855.39ZM1859.30 261.35H1863.22V265.39H1859.30ZM1867.14 608.41H1871.06V612.44H1867.14ZM190.49 903.00H1894.56V907.03H190.49ZM190.49 1459.90H1894.56V1463.93H190.49ZM190.49 903.00H194.41V1463.93H190.49ZM1890.64 903.00H1894.56V1463.93H1890.64ZM190.49 1100.74H1894.56V1104.77H190.49ZM272.76 903.00H351.10V907.03H272.76ZM272.76 1100.74H351.10V1104.77H272.76ZM272.76 903.00H276.67V1104.77H272.76ZM347.19 903.00H351.10V1104.77H347.19ZM394.20 967.56H472.54V971.60H394.20ZM394.20 1100.74H472.54V1104.77H394.20ZM394.20 967.56H398.11V1104.77H394.20ZM468.63 967.56H472.54V1104.77H468.63ZM515.64 1100.74H593.98V1104.77H515.64ZM515.64 1338.83H593.98V1342.87H515.64ZM515.64 1100.74H519.55V1342.87H515.64ZM590.07 1100.74H593.98V1342.87H590.07ZM637.07 1100.74H715.42V1104.77H637.07ZM637.07 1141.09H715.42V1145.13H637.07ZM637.07 1100.74H640.99V1145.13H637.07ZM711.51 1100.74H715.42V1145.13H711.51ZM758.51 1076.52H836.86V1080.56H758.51ZM758.51 1100.74H836.86V1104.77H758.51ZM758.51 1076.52H762.43V1104.77H758.51ZM832.94 1076.52H836.86V1104.77H832.94ZM879.95 1096.70H958.30V1100.74H879.95ZM879.95 1100.74H958.30V1104.77H879.95ZM879.95 1096.70H883.87V1104.77H879.95ZM954.38 1096.70H958.30V1104.77H954.38ZM1001.39 1100.74H1079.74V1104.77H1001.39ZM1001.39 1108.81H1079.74V1112.84H1001.39ZM1001.39 1100.74H1005.31V1112.84H1001.39ZM1075.82 1100.74H1079.74V1112.84H1075.82ZM311.93 907.03H315.85V923.17H311.93ZM311.93 1439.72H315.85V1459.90H311.93ZM433.37 907.03H437.29V923.17H433.37ZM433.37 1439.72H437.29V1459.90H433.37ZM554.81 907.03H558.73V923.17H554.81ZM554.81 1439.72H558.73V1459.90H554.81ZM676.25 907.03H680.17V923.17H676.25ZM676.25 1439.72H680.17V1459.90H676.25ZM797.69 907.03H801.61V923.17H797.69ZM797.69 1439.72H801.61V1459.90H797.69ZM919.13 907.03H923.05V923.17H919.13ZM919.13 1439.72H923.05V1459.90H919.13ZM1040.57 907.03H1044.48V923.17H1040.57ZM1040.57 1439.72H1044.48V1459.90H1040.57ZM1162.01 907.03H1165.92V923.17H1162.01ZM1162.01 1439.72H1165.92V1459.90H1162.01ZM1283.45 907.03H1287.36V923.17H1283.45ZM1283.45 1439.72H1287.36V1459.90H1283.45ZM1404.89 907.03H1408.80V923.17H1404.89ZM1404.89 1439.72H1408.80V1459.90H1404.89ZM1526.32 907.03H1530.24V923.17H1526.32ZM1526.32 1439.72H1530.24V1459.90H1526.32ZM1647.76 907.03H1651.68V923.17H1647.76ZM1647.76 1439.72H1651.68V1459.90H1647.76ZM1769.20 907.03H1773.12V923.17H1769.20ZM1769.20 1439.72H1773.12V1459.90H1769.20ZM194.41 975.64H210.08V979.67H194.41ZM1871.06 975.64H1890.64V979.67H1871.06ZM194.41 1225.84H210.08V1229.87H194.41ZM1871.06 1225.84H1890.64V1229.87H1871.06ZM194.41 1350.94H210.08V1354.97H194.41ZM1871.06 1350.94H1890.64V1354.97H1871.06ZM194.41 1100.74H210.08V1104.77H194.41ZM1871.06 1100.74H1890.64V1104.77H1871.06ZM214.00 975.64H217.91V979.67H214.00ZM221.83 1350.94H225.75V1354.97H221.83ZM225.75 1225.84H229.67V1229.87H225.75ZM233.58 975.64H237.50V979.67H233.58ZM241.42 1350.94H245.33V1354.97H241.42ZM245.33 1225.84H249.25V1229.87H245.33ZM253.17 975.64H257.09V979.67H253.17ZM261.00 1350.94H264.92V1354.97H261.00ZM264.92 1225.84H268.84V1229.87H264.92ZM280.59 1350.94H284.51V1354.97H280.59ZM284.51 1225.84H288.43V1229.87H284.51ZM300.18 1350.94H304.10V1354.97H300.18ZM304.10 1225.84H308.01V1229.87H304.10ZM311.93 1116.88H315.85V1120.91H311.93ZM311.93 1137.06H315.85V1141.09H311.93ZM311.93 1157.23H315.85V1161.27H311.93ZM311.93 1177.41H315.85V1181.45H311.93ZM311.93 1197.59H315.85V1201.62H311.93ZM311.93 1217.77H315.85V1221.80H311.93ZM311.93 1237.94H315.85V1241.98H311.93ZM311.93 1258.12H315.85V1262.16H311.93ZM311.93 1278.30H315.85V1282.33H311.93ZM311.93 1298.48H315.85V1302.51H311.93ZM311.93 1318.65H315.85V1322.69H311.93ZM311.93 1338.83H315.85V1342.87H311.93ZM311.93 1359.01H315.85V1363.04H311.93ZM311.93 1379.19H315.85V1383.22H311.93ZM311.93 1399.36H315.85V1403.40H311.93ZM311.93 1419.54H315.85V1423.58H311.93ZM319.77 1350.94H323.68V1354.97H319.77ZM323.68 1225.84H327.60V1229.87H323.68ZM339.35 1350.94H343.27V1354.97H339.35ZM343.27 1225.84H347.19V1229.87H343.27ZM351.10 975.64H355.02V979.67H351.10ZM358.94 1350.94H362.86V1354.97H358.94ZM362.86 1225.84H366.77V1229.87H362.86ZM370.69 975.64H374.61V979.67H370.69ZM378.53 1350.94H382.44V1354.97H378.53ZM382.44 1225.84H386.36V1229.87H382.44ZM390.28 975.64H394.20V979.67H390.28ZM398.11 1350.94H402.03V1354.97H398.11ZM402.03 1225.84H405.95V1229.87H402.03ZM417.70 1350.94H421.62V1354.97H417.70ZM421.62 1225.84H425.54V1229.87H421.62ZM433.37 927.21H437.29V931.25H433.37ZM433.37 947.39H437.29V951.42H433.37ZM433.37 1108.81H437.29V1112.84H433.37ZM433.37 1128.98H437.29V1133.02H433.37ZM433.37 1149.16H437.29V1153.20H433.37ZM433.37 1169.34H437.29V1173.38H433.37ZM433.37 1189.52H437.29V1193.55H433.37ZM433.37 1209.69H437.29V1213.73H433.37ZM433.37 1229.87H437.29V1233.91H433.37ZM433.37 1250.05H437.29V1254.09H433.37ZM433.37 1270.23H437.29V1274.26H433.37ZM433.37 1290.40H437.29V1294.44H433.37ZM433.37 1310.58H437.29V1314.62H433.37ZM433.37 1330.76H437.29V1334.80H433.37ZM433.37 1350.94H437.29V1354.97H433.37ZM433.37 1371.11H437.29V1375.15H433.37ZM433.37 1391.29H437.29V1395.33H433.37ZM433.37 1411.47H437.29V1415.51H433.37ZM433.37 1431.65H437.29V1435.68H433.37ZM437.29 1350.94H441.20V1354.97H437.29ZM441.20 1225.84H445.12V1229.87H441.20ZM456.87 1350.94H460.79V1354.97H456.87ZM460.79 1225.84H464.71V1229.87H460.79ZM476.46 1350.94H480.38V1354.97H476.46ZM480.38 1225.84H484.30V1229.87H480.38ZM488.21 975.64H492.13V979.67H488.21ZM496.05 1350.94H499.97V1354.97H496.05ZM499.97 1225.84H503.88V1229.87H499.97ZM507.80 975.64H511.72V979.67H507.80ZM515.64 1350.94H519.55V1354.97H515.64ZM527.39 975.64H531.31V979.67H527.39ZM535.22 1350.94H539.14V1354.97H535.22ZM546.97 975.64H550.89V979.67H546.97ZM554.81 939.32H558.73V943.35H554.81ZM554.81 959.49H558.73V963.53H554.81ZM554.81 979.67H558.73V983.71H554.81ZM554.81 999.85H558.73V1003.88H554.81ZM554.81 1020.03H558.73V1024.06H554.81ZM554.81 1040.20H558.73V1044.24H554.81ZM554.81 1060.38H558.73V1064.42H554.81ZM554.81 1080.56H558.73V1084.59H554.81ZM554.81 1342.87H558.73V1346.90H554.81ZM554.81 1350.94H558.73V1354.97H554.81ZM554.81 1363.04H558.73V1367.08H554.81ZM554.81 1383.22H558.73V1387.26H554.81ZM554.81 1403.40H558.73V1407.43H554.81ZM554.81 1423.58H558.73V1427.61H554.81ZM566.56 975.64H570.48V979.67H566.56ZM574.40 1350.94H578.31V1354.97H574.40ZM586.15 975.64H590.07V979.67H586.15ZM593.98 1350.94H597.90V1354.97H593.98ZM597.90 1225.84H601.82V1229.87H597.90ZM605.74 975.64H609.65V979.67H605.74ZM613.57 1350.94H617.49V1354.97H613.57ZM617.49 1225.84H621.41V1229.87H617.49ZM625.32 975.64H629.24V979.67H625.32ZM633.16 1350.94H637.07V1354.97H633.16ZM637.07 1225.84H640.99V1229.87H637.07ZM644.91 975.64H648.83V979.67H644.91ZM652.74 1350.94H656.66V1354.97H652.74ZM656.66 1225.84H660.58V1229.87H656.66ZM664.50 975.64H668.41V979.67H664.50ZM672.33 1350.94H676.25V1354.97H672.33ZM676.25 931.25H680.17V935.28H676.25ZM676.25 951.42H680.17V955.46H676.25ZM676.25 971.60H680.17V975.64H676.25ZM676.25 991.78H680.17V995.81H676.25ZM676.25 1011.96H680.17V1015.99H676.25ZM676.25 1032.13H680.17V1036.17H676.25ZM676.25 1052.31H680.17V1056.35H676.25ZM676.25 1072.49H680.17V1076.52H676.25ZM676.25 1092.67H680.17V1096.70H676.25ZM676.25 1153.20H680.17V1157.23H676.25ZM676.25 1173.38H680.17V1177.41H676.25ZM676.25 1193.55H680.17V1197.59H676.25ZM676.25 1213.73H680.17V1217.77H676.25ZM676.25 1225.84H680.17V1229.87H676.25ZM676.25 1233.91H680.17V1237.94H676.25ZM676.25 1254.09H680.17V1258.12H676.25ZM676.25 1274.26H680.17V1278.30H676.25ZM676.25 1294.44H680.17V1298.48H676.25ZM676.25 1314.62H680.17V1318.65H676.25ZM676.25 1334.80H680.17V1338.83H676.25ZM676.25 1354.97H680.17V1359.01H676.25ZM676.25 1375.15H680.17V1379.19H676.25ZM676.25 1395.33H680.17V1399.36H676.25ZM676.25 1415.51H680.17V1419.54H676.25ZM676.25 1435.68H680.17V1439.72H676.25ZM684.08 975.64H688.00V979.67H684.08ZM691.92 1350.94H695.84V1354.97H691.92ZM695.84 1225.84H699.75V1229.87H695.84ZM703.67 975.64H707.59V979.67H703.67ZM711.51 1350.94H715.42V1354.97H711.51ZM715.42 1225.84H719.34V1229.87H715.42ZM723.26 975.64H727.18V979.67H723.26ZM731.09 1350.94H735.01V1354.97H731.09ZM735.01 1225.84H738.93V1229.87H735.01ZM742.84 975.64H746.76V979.67H742.84ZM750.68 1350.94H754.60V1354.97H750.68ZM754.60 1225.84H758.51V1229.87H754.60ZM762.43 975.64H766.35V979.67H762.43ZM770.27 1350.94H774.18V1354.97H770.27ZM774.18 1225.84H778.10V1229.87H774.18ZM782.02 975.64H785.94V979.67H782.02ZM789.85 1350.94H793.77V1354.97H789.85ZM793.77 1225.84H797.69V1229.87H793.77ZM797.69 923.17H801.61V927.21H797.69ZM797.69 943.35H801.61V947.39H797.69ZM797.69 963.53H801.61V967.56H797.69ZM797.69 983.71H801.61V987.74H797.69ZM797.69 1003.88H801.61V1007.92H797.69ZM797.69 1024.06H801.61V1028.10H797.69ZM797.69 1044.24H801.61V1048.27H797.69ZM797.69 1064.42H801.61V1068.45H797.69ZM797.69 1104.77H801.61V1108.81H797.69ZM797.69 1124.95H801.61V1128.98H797.69ZM797.69 1145.13H801.61V1149.16H797.69ZM797.69 1165.30H801.61V1169.34H797.69ZM797.69 1185.48H801.61V1189.52H797.69ZM797.69 1205.66H801.61V1209.69H797.69ZM797.69 1225.84H801.61V1229.87H797.69ZM797.69 1246.01H801.61V1250.05H797.69ZM797.69 1266.19H801.61V1270.23H797.69ZM797.69 1286.37H801.61V1290.40H797.69ZM797.69 1306.55H801.61V1310.58H797.69ZM797.69 1326.72H801.61V1330.76H797.69ZM797.69 1346.90H801.61V1350.94H797.69ZM797.69 1367.08H801.61V1371.11H797.69ZM797.69 1387.26H801.61V1391.29H797.69ZM797.69 1407.43H801.61V1411.47H797.69ZM797.69 1427.61H801.61V1431.65H797.69ZM801.61 975.64H805.52V979.67H801.61ZM809.44 1350.94H813.36V1354.97H809.44ZM813.36 1225.84H817.28V1229.87H813.36ZM821.19 975.64H825.11V979.67H821.19ZM829.03 1350.94H832.94V1354.97H829.03ZM832.94 1225.84H836.86V1229.87H832.94ZM840.78 975.64H844.70V979.67H840.78ZM848.61 1350.94H852.53V1354.97H848.61ZM852.53 1225.84H856.45V1229.87H852.53ZM860.37 975.64H864.28V979.67H860.37ZM868.20 1350.94H872.12V1354.97H868.20ZM872.12 1225.84H876.04V1229.87H872.12ZM879.95 975.64H883.87V979.67H879.95ZM887.79 1350.94H891.71V1354.97H887.79ZM891.71 1225.84H895.62V1229.87H891.71ZM899.54 975.64H903.46V979.67H899.54ZM907.38 1350.94H911.29V1354.97H907.38ZM911.29 1225.84H915.21V1229.87H911.29ZM919.13 935.28H923.05V939.32H919.13ZM919.13 955.46H923.05V959.49H919.13ZM919.13 975.64H923.05V979.67H919.13ZM919.13 995.81H923.05V999.85H919.13ZM919.13 1015.99H923.05V1020.03H919.13ZM919.13 1036.17H923.05V1040.20H919.13ZM919.13 1056.35H923.05V1060.38H919.13ZM919.13 1076.52H923.05V1080.56H919.13ZM919.13 1116.88H923.05V1120.91H919.13ZM919.13 1137.06H923.05V1141.09H919.13ZM919.13 1157.23H923.05V1161.27H919.13ZM919.13 1177.41H923.05V1181.45H919.13ZM919.13 1197.59H923.05V1201.62H919.13ZM919.13 1217.77H923.05V1221.80H919.13ZM919.13 1237.94H923.05V1241.98H919.13ZM919.13 1258.12H923.05V1262.16H919.13ZM919.13 1278.30H923.05V1282.33H919.13ZM919.13 1298.48H923.05V1302.51H919.13ZM919.13 1318.65H923.05V1322.69H919.13ZM919.13 1338.83H923.05V1342.87H919.13ZM919.13 1359.01H923.05V1363.04H919.13ZM919.13 1379.19H923.05V1383.22H919.13ZM919.13 1399.36H923.05V1403.40H919.13ZM919.13 1419.54H923.05V1423.58H919.13ZM926.96 1350.94H930.88V1354.97H926.96ZM930.88 1225.84H934.80V1229.87H930.88ZM938.71 975.64H942.63V979.67H938.71ZM946.55 1350.94H950.47V1354.97H946.55ZM950.47 1225.84H954.38V1229.87H950.47ZM958.30 975.64H962.22V979.67H958.30ZM966.14 1350.94H970.05V1354.97H966.14ZM970.05 1225.84H973.97V1229.87H970.05ZM977.89 975.64H981.81V979.67H977.89ZM985.72 1350.94H989.64V1354.97H985.72ZM989.64 1225.84H993.56V1229.87H989.64ZM997.48 975.64H1001.39V979.67H997.48ZM1005.31 1350.94H1009.23V1354.97H1005.31ZM1009.23 1225.84H1013.15V1229.87H1009.23ZM1017.06 975.64H1020.98V979.67H1017.06ZM1024.90 1350.94H1028.81V1354.97H1024.90ZM1028.81 1225.84H1032.73V1229.87H1028.81ZM1036.65 975.64H1040.57V979.67H1036.65ZM1040.57 927.21H1044.48V931.25H1040.57ZM1040.57 947.39H1044.48V951.42H1040.57ZM1040.57 967.56H1044.48V971.60H1040.57ZM1040.57 987.74H1044.48V991.78H1040.57ZM1040.57 1007.92H1044.48V1011.96H1040.57ZM1040.57 1028.10H1044.48V1032.13H1040.57ZM1040.57 1048.27H1044.48V1052.31H1040.57ZM1040.57 1068.45H1044.48V1072.49H1040.57ZM1040.57 1088.63H1044.48V1092.67H1040.57ZM1040.57 1128.98H1044.48V1133.02H1040.57ZM1040.57 1149.16H1044.48V1153.20H1040.57ZM1040.57 1169.34H1044.48V1173.38H1040.57ZM1040.57 1189.52H1044.48V1193.55H1040.57ZM1040.57 1209.69H1044.48V1213.73H1040.57ZM1040.57 1229.87H1044.48V1233.91H1040.57ZM1040.57 1250.05H1044.48V1254.09H1040.57ZM1040.57 1270.23H1044.48V1274.26H1040.57ZM1040.57 1290.40H1044.48V1294.44H1040.57ZM1040.57 1310.58H1044.48V1314.62H1040.57ZM1040.57 1330.76H1044.48V1334.80H1040.57ZM1040.57 1350.94H1044.48V1354.97H1040.57ZM1040.57 1371.11H1044.48V1375.15H1040.57ZM1040.57 1391.29H1044.48V1395.33H1040.57ZM1040.57 1411.47H1044.48V1415.51H1040.57ZM1040.57 1431.65H1044.48V1435.68H1040.57ZM1044.48 1350.94H1048.40V1354.97H1044.48ZM1048.40 1225.84H1052.32V1229.87H1048.40ZM1056.24 975.64H1060.15V979.67H1056.24ZM1064.07 1350.94H1067.99V1354.97H1064.07ZM1067.99 1225.84H1071.91V1229.87H1067.99ZM1075.82 975.64H1079.74V979.67H1075.82ZM1083.66 1350.94H1087.58V1354.97H1083.66ZM1087.58 1225.84H1091.49V1229.87H1087.58ZM1095.41 975.64H1099.33V979.67H1095.41ZM1103.25 1350.94H1107.16V1354.97H1103.25ZM1107.16 1225.84H1111.08V1229.87H1107.16ZM1115.00 975.64H1118.92V979.67H1115.00ZM1122.83 1350.94H1126.75V1354.97H1122.83ZM1126.75 1225.84H1130.67V1229.87H1126.75ZM1134.58 975.64H1138.50V979.67H1134.58ZM1142.42 1350.94H1146.34V1354.97H1142.42ZM1154.17 975.64H1158.09V979.67H1154.17ZM1162.01 939.32H1165.92V943.35H1162.01ZM1162.01 959.49H1165.92V963.53H1162.01ZM1162.01 979.67H1165.92V983.71H1162.01ZM1162.01 999.85H1165.92V1003.88H1162.01ZM1162.01 1020.03H1165.92V1024.06H1162.01ZM1162.01 1040.20H1165.92V1044.24H1162.01ZM1162.01 1060.38H1165.92V1064.42H1162.01ZM1162.01 1080.56H1165.92V1084.59H1162.01ZM1162.01 1120.91H1165.92V1124.95H1162.01ZM1162.01 1241.98H1165.92V1246.01H1162.01ZM1162.01 1262.16H1165.92V1266.19H1162.01ZM1162.01 1282.33H1165.92V1286.37H1162.01ZM1162.01 1302.51H1165.92V1306.55H1162.01ZM1162.01 1322.69H1165.92V1326.72H1162.01ZM1162.01 1342.87H1165.92V1346.90H1162.01ZM1162.01 1350.94H1165.92V1354.97H1162.01ZM1162.01 1363.04H1165.92V1367.08H1162.01ZM1162.01 1383.22H1165.92V1387.26H1162.01ZM1162.01 1403.40H1165.92V1407.43H1162.01ZM1162.01 1423.58H1165.92V1427.61H1162.01ZM1173.76 975.64H1177.68V979.67H1173.76ZM1181.59 1350.94H1185.51V1354.97H1181.59ZM1193.35 975.64H1197.26V979.67H1193.35ZM1201.18 1350.94H1205.10V1354.97H1201.18ZM1212.93 975.64H1216.85V979.67H1212.93ZM1220.77 1350.94H1224.68V1354.97H1220.77ZM1232.52 975.64H1236.44V979.67H1232.52ZM1240.35 1350.94H1244.27V1354.97H1240.35ZM1252.11 975.64H1256.02V979.67H1252.11ZM1259.94 1350.94H1263.86V1354.97H1259.94ZM1271.69 975.64H1275.61V979.67H1271.69ZM1279.53 1350.94H1283.45V1354.97H1279.53ZM1283.45 931.25H1287.36V935.28H1283.45ZM1283.45 951.42H1287.36V955.46H1283.45ZM1283.45 971.60H1287.36V975.64H1283.45ZM1283.45 991.78H1287.36V995.81H1283.45ZM1283.45 1011.96H1287.36V1015.99H1283.45ZM1283.45 1032.13H1287.36V1036.17H1283.45ZM1283.45 1052.31H1287.36V1056.35H1283.45ZM1283.45 1072.49H1287.36V1076.52H1283.45ZM1283.45 1092.67H1287.36V1096.70H1283.45ZM1283.45 1112.84H1287.36V1116.88H1283.45ZM1283.45 1233.91H1287.36V1237.94H1283.45ZM1283.45 1254.09H1287.36V1258.12H1283.45ZM1283.45 1274.26H1287.36V1278.30H1283.45ZM1283.45 1294.44H1287.36V1298.48H1283.45ZM1283.45 1314.62H1287.36V1318.65H1283.45ZM1283.45 1334.80H1287.36V1338.83H1283.45ZM1283.45 1354.97H1287.36V1359.01H1283.45ZM1283.45 1375.15H1287.36V1379.19H1283.45ZM1283.45 1395.33H1287.36V1399.36H1283.45ZM1283.45 1415.51H1287.36V1419.54H1283.45ZM1283.45 1435.68H1287.36V1439.72H1283.45ZM1291.28 975.64H1295.20V979.67H1291.28ZM1299.12 1350.94H1303.03V1354.97H1299.12ZM1310.87 975.64H1314.79V979.67H1310.87ZM1318.70 1350.94H1322.62V1354.97H1318.70ZM1330.45 975.64H1334.37V979.67H1330.45ZM1338.29 1350.94H1342.21V1354.97H1338.29ZM1350.04 975.64H1353.96V979.67H1350.04ZM1357.88 1350.94H1361.79V1354.97H1357.88ZM1369.63 975.64H1373.55V979.67H1369.63ZM1377.46 1350.94H1381.38V1354.97H1377.46ZM1389.22 975.64H1393.13V979.67H1389.22ZM1397.05 1350.94H1400.97V1354.97H1397.05ZM1404.89 923.17H1408.80V927.21H1404.89ZM1404.89 943.35H1408.80V947.39H1404.89ZM1404.89 963.53H1408.80V967.56H1404.89ZM1404.89 983.71H1408.80V987.74H1404.89ZM1404.89 1003.88H1408.80V1007.92H1404.89ZM1404.89 1024.06H1408.80V1028.10H1404.89ZM1404.89 1044.24H1408.80V1048.27H1404.89ZM1404.89 1064.42H1408.80V1068.45H1404.89ZM1404.89 1084.59H1408.80V1088.63H1404.89ZM1404.89 1104.77H1408.80V1108.81H1404.89ZM1404.89 1124.95H1408.80V1128.98H1404.89ZM1404.89 1246.01H1408.80V1250.05H1404.89ZM1404.89 1266.19H1408.80V1270.23H1404.89ZM1404.89 1286.37H1408.80V1290.40H1404.89ZM1404.89 1306.55H1408.80V1310.58H1404.89ZM1404.89 1326.72H1408.80V1330.76H1404.89ZM1404.89 1346.90H1408.80V1350.94H1404.89ZM1404.89 1367.08H1408.80V1371.11H1404.89ZM1404.89 1387.26H1408.80V1391.29H1404.89ZM1404.89 1407.43H1408.80V1411.47H1404.89ZM1404.89 1427.61H1408.80V1431.65H1404.89ZM1408.80 975.64H1412.72V979.67H1408.80ZM1416.64 1350.94H1420.55V1354.97H1416.64ZM1428.39 975.64H1432.31V979.67H1428.39ZM1436.22 1350.94H1440.14V1354.97H1436.22ZM1447.98 975.64H1451.89V979.67H1447.98ZM1455.81 1350.94H1459.73V1354.97H1455.81ZM1467.56 975.64H1471.48V979.67H1467.56ZM1475.40 1350.94H1479.32V1354.97H1475.40ZM1487.15 975.64H1491.07V979.67H1487.15ZM1494.99 1350.94H1498.90V1354.97H1494.99ZM1506.74 975.64H1510.66V979.67H1506.74ZM1514.57 1350.94H1518.49V1354.97H1514.57ZM1526.32 935.28H1530.24V939.32H1526.32ZM1526.32 955.46H1530.24V959.49H1526.32ZM1526.32 975.64H1530.24V979.67H1526.32ZM1526.32 995.81H1530.24V999.85H1526.32ZM1526.32 1015.99H1530.24V1020.03H1526.32ZM1526.32 1036.17H1530.24V1040.20H1526.32ZM1526.32 1056.35H1530.24V1060.38H1526.32ZM1526.32 1076.52H1530.24V1080.56H1526.32ZM1526.32 1096.70H1530.24V1100.74H1526.32ZM1526.32 1116.88H1530.24V1120.91H1526.32ZM1526.32 1237.94H1530.24V1241.98H1526.32ZM1526.32 1258.12H1530.24V1262.16H1526.32ZM1526.32 1278.30H1530.24V1282.33H1526.32ZM1526.32 1298.48H1530.24V1302.51H1526.32ZM1526.32 1318.65H1530.24V1322.69H1526.32ZM1526.32 1338.83H1530.24V1342.87H1526.32ZM1526.32 1359.01H1530.24V1363.04H1526.32ZM1526.32 1379.19H1530.24V1383.22H1526.32ZM1526.32 1399.36H1530.24V1403.40H1526.32ZM1526.32 1419.54H1530.24V1423.58H1526.32ZM1534.16 1350.94H1538.08V1354.97H1534.16ZM1545.91 975.64H1549.83V979.67H1545.91ZM1553.75 1350.94H1557.66V1354.97H1553.75ZM1565.50 975.64H1569.42V979.67H1565.50ZM1573.33 1350.94H1577.25V1354.97H1573.33ZM1585.09 975.64H1589.00V979.67H1585.09ZM1592.92 1350.94H1596.84V1354.97H1592.92ZM1604.67 975.64H1608.59V979.67H1604.67ZM1612.51 1350.94H1616.42V1354.97H1612.51ZM1624.26 975.64H1628.18V979.67H1624.26ZM1632.09 1350.94H1636.01V1354.97H1632.09ZM1643.85 975.64H1647.76V979.67H1643.85ZM1647.76 927.21H1651.68V931.25H1647.76ZM1647.76 947.39H1651.68V951.42H1647.76ZM1647.76 967.56H1651.68V971.60H1647.76ZM1647.76 987.74H1651.68V991.78H1647.76ZM1647.76 1007.92H1651.68V1011.96H1647.76ZM1647.76 1028.10H1651.68V1032.13H1647.76ZM1647.76 1048.27H1651.68V1052.31H1647.76ZM1647.76 1068.45H1651.68V1072.49H1647.76ZM1647.76 1088.63H1651.68V1092.67H1647.76ZM1647.76 1108.81H1651.68V1112.84H1647.76ZM1647.76 1128.98H1651.68V1133.02H1647.76ZM1647.76 1229.87H1651.68V1233.91H1647.76ZM1647.76 1250.05H1651.68V1254.09H1647.76ZM1647.76 1270.23H1651.68V1274.26H1647.76ZM1647.76 1290.40H1651.68V1294.44H1647.76ZM1647.76 1310.58H1651.68V1314.62H1647.76ZM1647.76 1330.76H1651.68V1334.80H1647.76ZM1647.76 1350.94H1651.68V1354.97H1647.76ZM1647.76 1371.11H1651.68V1375.15H1647.76ZM1647.76 1391.29H1651.68V1395.33H1647.76ZM1647.76 1411.47H1651.68V1415.51H1647.76ZM1647.76 1431.65H1651.68V1435.68H1647.76ZM1651.68 1350.94H1655.60V1354.97H1651.68ZM1663.43 975.64H1667.35V979.67H1663.43ZM1671.27 1350.94H1675.19V1354.97H1671.27ZM1683.02 975.64H1686.94V979.67H1683.02ZM1690.86 1350.94H1694.77V1354.97H1690.86ZM1702.61 975.64H1706.53V979.67H1702.61ZM1710.44 1350.94H1714.36V1354.97H1710.44ZM1722.19 975.64H1726.11V979.67H1722.19ZM1730.03 1350.94H1733.95V1354.97H1730.03ZM1741.78 975.64H1745.70V979.67H1741.78ZM1749.62 1350.94H1753.53V1354.97H1749.62ZM1761.37 975.64H1765.29V979.67H1761.37ZM1769.20 939.32H1773.12V943.35H1769.20ZM1769.20 959.49H1773.12V963.53H1769.20ZM1769.20 979.67H1773.12V983.71H1769.20ZM1769.20 999.85H1773.12V1003.88H1769.20ZM1769.20 1020.03H1773.12V1024.06H1769.20ZM1769.20 1040.20H1773.12V1044.24H1769.20ZM1769.20 1060.38H1773.12V1064.42H1769.20ZM1769.20 1080.56H1773.12V1084.59H1769.20ZM1769.20 1120.91H1773.12V1124.95H1769.20ZM1769.20 1241.98H1773.12V1246.01H1769.20ZM1769.20 1262.16H1773.12V1266.19H1769.20ZM1769.20 1282.33H1773.12V1286.37H1769.20ZM1769.20 1302.51H1773.12V1306.55H1769.20ZM1769.20 1322.69H1773.12V1326.72H1769.20ZM1769.20 1342.87H1773.12V1346.90H1769.20ZM1769.20 1350.94H1773.12V1354.97H1769.20ZM1769.20 1363.04H1773.12V1367.08H1769.20ZM1769.20 1383.22H1773.12V1387.26H1769.20ZM1769.20 1403.40H1773.12V1407.43H1769.20ZM1769.20 1423.58H1773.12V1427.61H1769.20ZM1780.96 975.64H1784.87V979.67H1780.96ZM1788.79 1350.94H1792.71V1354.97H1788.79ZM1800.54 975.64H1804.46V979.67H1800.54ZM1808.38 1350.94H1812.29V1354.97H1808.38ZM1812.29 1225.84H1816.21V1229.87H1812.29ZM1820.13 975.64H1824.05V979.67H1820.13ZM1827.96 1350.94H1831.88V1354.97H1827.96ZM1831.88 1225.84H1835.80V1229.87H1831.88ZM1839.72 975.64H1843.63V979.67H1839.72ZM1847.55 1350.94H1851.47V1354.97H1847.55ZM1851.47 1225.84H1855.39V1229.87H1851.47ZM1859.30 975.64H1863.22V979.67H1859.30ZM1867.14 1350.94H1871.06V1354.97H1867.14ZM1165.92 216.96H1769.20V221.00H1165.92ZM1165.92 309.78H1769.20V313.81H1165.92ZM1165.92 216.96H1169.84V313.81H1165.92ZM1765.29 216.96H1769.20V313.81H1765.29ZM1197.26 233.10H1357.88V237.14H1197.26ZM1197.26 289.60H1357.88V293.64H1197.26ZM1197.26 233.10H1201.18V293.64H1197.26ZM1353.96 233.10H1357.88V293.64H1353.96ZM1138.50 1133.02H1796.63V1137.06H1138.50ZM1138.50 1225.84H1796.63V1229.87H1138.50ZM1138.50 1133.02H1142.42V1229.87H1138.50ZM1792.71 1133.02H1796.63V1229.87H1792.71ZM1169.84 1149.16H1330.45V1153.20H1169.84ZM1169.84 1205.66H1330.45V1209.69H1169.84ZM1169.84 1149.16H1173.76V1209.69H1169.84ZM1326.54 1149.16H1330.45V1209.69H1326.54Z"/>
<g id="labels">
<text transform="translate(684.08 59.58) scale(0.9000 1.0000)" x="1.63 58.15 92.29 109.70 143.57 177.76 196.57 213.44 249.04 267.85 282.22 300.49 334.45 353.26 388.27 403.97 422.90 458.45 486.80 505.79 521.86 554.35 585.77 604.47 640.00 676.66 724.10 757.99" class="b">Weight of total active power</text>
<text transform="translate(660.58 862.64) scale(0.9000 1.0000)" x="1.63 58.15 92.29 109.70 143.57 177.76 196.57 213.44 249.04 267.85 282.22 300.49 334.45 353.26 388.27 403.97 422.84 445.53 479.49 515.04 543.38 562.38 578.44 610.93 642.36 661.06 696.58 733.24 780.69 814.58" class="b">Weight of total reactive power</text>
<text transform="translate(864.28 790.00) scale(0.8000 1.0000)" x="1.44 44.15 79.68 101.11 153.09 187.32 221.38 237.47 265.97 290.20 324.52 344.70 378.39 412.66" class="l">Harmonic order</text>
<text transform="translate(864.28 1593.07) scale(0.8000 1.0000)" x="1.44 44.15 79.68 101.11 153.09 187.32 221.38 237.47 265.97 290.20 324.52 344.70 378.39 412.66" class="l">Harmonic order</text>
<text transform="translate(1369.63 285.57) scale(0.8560 1.0000)" x="0.23 39.89 72.42 90.48 124.64 144.09 176.11 209.25 226.45 258.49 290.32 322.39 354.92 377.38" y="0 0 0 -1.2 0 0 0 0 0 0 0 0 0 0" clip-path="url(#k0)">P1 = 43.3378 W</text>
<text transform="translate(1342.21 1201.62) scale(0.8560 1.0000)" x="0.14 44.47 77.00 95.05 129.22 148.15 168.03 198.62 232.13 249.34 281.00 313.23 345.07 377.60 399.23 440.42 480.77" y="0 0 0 -1.2 0 1.7 0 0 0 0 0 0 0 0 0 0 0" clip-path="url(#k1)">Q1 = -16.3686 VAr</text>
<text transform="translate(300.18 721.40) scale(0.8560 1.0000)" x="-1.30" clip-path="url(#k2)">1</text>
<text transform="translate(421.62 721.40) scale(0.8560 1.0000)" x="-2.37">3</text>
<text transform="translate(543.06 721.40) scale(0.8560 1.0000)" x="-2.48">5</text>
<text transform="translate(664.50 721.40) scale(0.8560 1.0000)" x="-2.57">7</text>
<text transform="translate(785.94 721.40) scale(0.8560 1.0000)" x="-2.52">9</text>
<text transform="translate(891.71 721.40) scale(0.8560 1.0000)" x="-1.30 30.74" clip-path="url(#k3)">11</text>
<text transform="translate(1013.15 721.40) scale(0.8560 1.0000)" x="-1.30 29.67" clip-path="url(#k4)">13</text>
<text transform="translate(1134.58 721.40) scale(0.8560 1.0000)" x="-1.30 29.55" clip-path="url(#k5)">15</text>
<text transform="translate(1256.02 721.40) scale(0.8560 1.0000)" x="-1.30 29.47" clip-path="url(#k6)">17</text>
<text transform="translate(1377.46 721.40) scale(0.8560 1.0000)" x="-1.30 29.51" clip-path="url(#k7)">19</text>
<text transform="translate(1498.90 721.40) scale(0.8560 1.0000)" x="-2.54 30.74" clip-path="url(#k8)">21</text>
<text transform="translate(1620.34 721.40) scale(0.8560 1.0000)" x="-2.54 29.67">23</text>
<text transform="translate(1741.78 721.40) scale(0.8560 1.0000)" x="-2.54 29.55">25</text>
<text transform="translate(1863.22 721.40) scale(0.8560 1.0000)" x="-2.37 30.74" clip-path="url(#k9)">31</text>
<text transform="translate(300.18 1524.46) scale(0.8560 1.0000)" x="-1.30" clip-path="url(#k10)">1</text>
<text transform="translate(421.62 1524.46) scale(0.8560 1.0000)" x="-2.37">3</text>
<text transform="translate(543.06 1524.46) scale(0.8560 1.0000)" x="-2.48">5</text>
<text transform="translate(664.50 1524.46) scale(0.8560 1.0000)" x="-2.57">7</text>
<text transform="translate(785.94 1524.46) scale(0.8560 1.0000)" x="-2.52">9</text>
<text transform="translate(891.71 1524.46) scale(0.8560 1.0000)" x="-1.30 30.74" clip-path="url(#k11)">11</text>
<text transform="translate(1013.15 1524.46) scale(0.8560 1.0000)" x="-1.30 29.67" clip-path="url(#k12)">13</text>
<text transform="translate(1134.58 1524.46) scale(0.8560 1.0000)" x="-1.30 29.55" clip-path="url(#k13)">15</text>
<text transform="translate(1256.02 1524.46) scale(0.8560 1.0000)" x="-1.30 29.47" clip-path="url(#k14)">17</text>
<text transform="translate(1377.46 1524.46) scale(0.8560 1.0000)" x="-1.30 29.51" clip-path="url(#k15)">19</text>
<text transform="translate(1498.90 1524.46) scale(0.8560 1.0000)" x="-2.54 30.74" clip-path="url(#k16)">21</text>
<text transform="translate(1620.34 1524.46) scale(0.8560 1.0000)" x="-2.54 29.67">23</text>
<text transform="translate(1741.78 1524.46) scale(0.8560 1.0000)" x="-2.54 29.55">25</text>
<text transform="translate(1863.22 1524.46) scale(0.8560 1.0000)" x="-2.37 30.74" clip-path="url(#k17)">31</text>
<text transform="translate(147.40 164.50) scale(0.8560 1.0000)" x="-2.54">0</text>
<text transform="translate(88.64 281.53) scale(0.8560 1.0000)" x="-2.88 15.77 49.08 66.16" y="1.7 0 0 0">-0.5</text>
<text transform="translate(131.73 398.56) scale(0.8560 1.0000)" x="-2.88 17.01" y="1.7 0" clip-path="url(#k18)">-1</text>
<text transform="translate(88.64 511.55) scale(0.8560 1.0000)" x="-2.88 17.01 49.08 66.16" y="1.7 0 0 0" clip-path="url(#k19)">-1.5</text>
<text transform="translate(131.73 628.58) scale(0.8560 1.0000)" x="-2.88 15.77" y="1.7 0">-2</text>
<text transform="translate(147.40 995.81) scale(0.8560 1.0000)" x="-1.30" clip-path="url(#k20)">1</text>
<text transform="translate(147.40 1120.91) scale(0.8560 1.0000)" x="-2.54">0</text>
<text transform="translate(131.73 1246.01) scale(0.8560 1.0000)" x="-2.88 17.01" y="1.7 0" clip-path="url(#k21)">-1</text>
<text transform="translate(131.73 1371.11) scale(0.8560 1.0000)" x="-2.88 15.77" y="1.7 0">-2</text>
<text transform="translate(49.46 588.23) rotate(-90) scale(0.8241 0.9707)" x="0.07 23.63 82.03 97.87 118.81 153.23 169.07 190.18 211.85 244.04 264.50 299.70 312.36 333.63 368.54 402.96 446.95 481.21" class="l">[%] of total power</text>
<text transform="translate(92.56 1225.84) rotate(-90) scale(0.8241 0.9707)" x="0.07 23.63 82.03" class="l">[%]</text>
</g>
</svg></body></html>
